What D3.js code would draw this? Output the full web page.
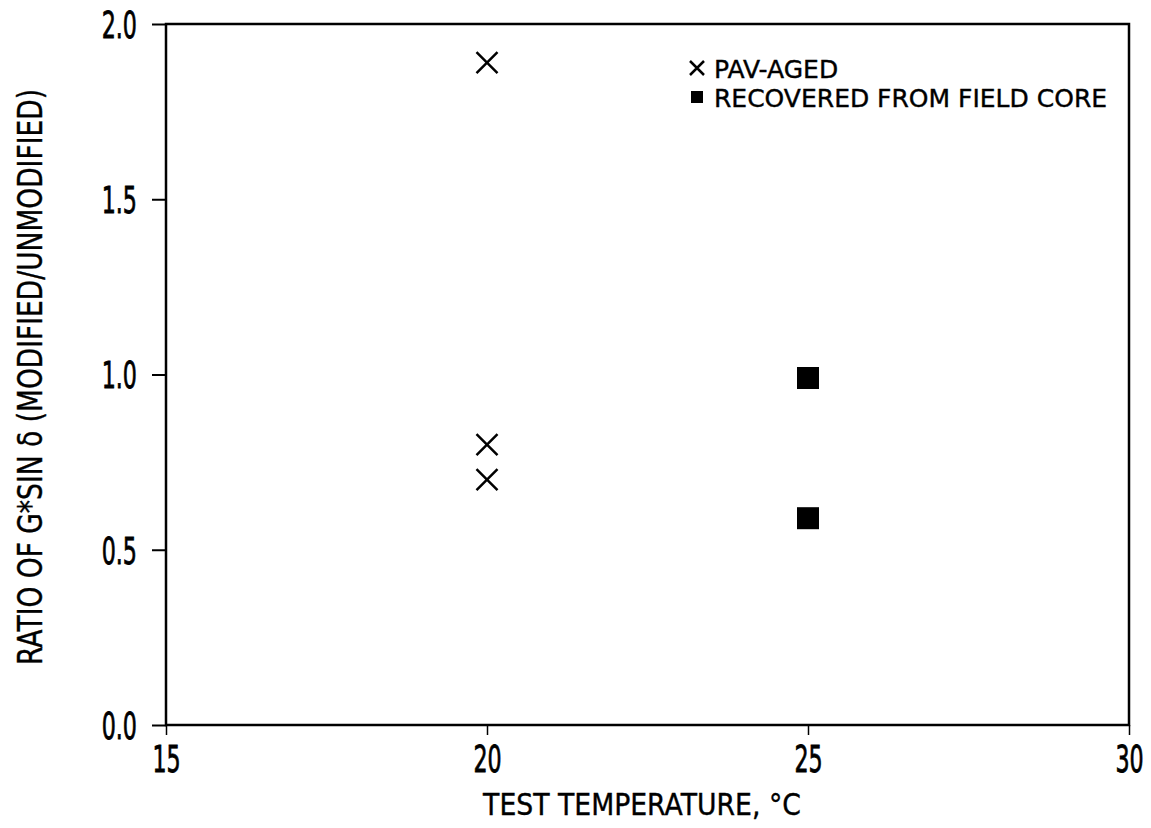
<!DOCTYPE html>
<html>
<head>
<meta charset="utf-8">
<script src="https://cdn.jsdelivr.net/npm/d3@7"></script>
<style>
  body { margin: 0; background: #fff; }
  text { font-family: "DejaVu Sans", sans-serif; fill: #000; }
</style>
</head>
<body>
<svg id="chart" width="1151" height="828"></svg>
<script>
// Ratio of G*sin(delta), modified / unmodified binder
const xTicks = [15, 20, 25, 30];
const yTicks = [0.0, 0.5, 1.0, 1.5, 2.0];
const pavTemps = [20, 20, 20];
const pavRatios = [1.89, 0.80, 0.70];
const fieldTemps = [25, 25];
const fieldRatios = [0.99, 0.59];
const legendLabels = ["PAV-AGED", "RECOVERED FROM FIELD CORE"];

const svg = d3.select("#chart");
const margin = { left: 166, right: 22, top: 24, bottom: 103 };
const W = 1151, H = 828;

const x = d3.scaleLinear().domain([15, 30]).range([margin.left, W - margin.right]);
const y = d3.scaleLinear().domain([0, 2]).range([H - margin.bottom, margin.top]);

// narrow lettering: text squeezed horizontally about its anchor
const narrow = (sel, tx, ty, sx, rot) =>
  sel.attr("x", 0).attr("y", 0)
     .attr("transform", `translate(${tx},${ty})${rot ? ` rotate(${rot})` : ""} scale(${sx},1)`);

// frame
svg.append("rect")
  .attr("x", x(15)).attr("y", y(2))
  .attr("width", x(30) - x(15)).attr("height", y(0) - y(2))
  .attr("fill", "none").attr("stroke", "#000").attr("stroke-width", 2.5);

// x axis
const xAxis = svg.append("g").attr("transform", `translate(0,${y(0)})`)
  .call(d3.axisBottom(x).tickValues(xTicks).tickFormat(d3.format("d")).tickSize(10));
xAxis.select(".domain").remove();
xAxis.selectAll("line").attr("stroke", "#000").attr("stroke-width", 1.5);
xAxis.selectAll("text").attr("font-size", 37).attr("dy", null)
  .attr("stroke", "#000").attr("stroke-width", 0.8)
  .each(function () { narrow(d3.select(this), 0, 47, 0.6); });

// y axis
const yAxis = svg.append("g").attr("transform", `translate(${x(15)},0)`)
  .call(d3.axisLeft(y).tickValues(yTicks).tickFormat(d3.format(".1f")).tickSize(14));
yAxis.select(".domain").remove();
yAxis.selectAll("line").attr("stroke", "#000").attr("stroke-width", 2);
yAxis.selectAll("text").attr("font-size", 37).attr("dy", "0.36em")
  .attr("stroke", "#000").attr("stroke-width", 0.8)
  .each(function () { narrow(d3.select(this), -29, 0, 0.6); });

// axis titles
narrow(svg.append("text").attr("text-anchor", "middle").attr("font-size", 30)
  .attr("stroke", "#000").attr("stroke-width", 0.4)
  .text("TEST TEMPERATURE, \u00B0C"), 642, 815, 0.89);

narrow(svg.append("text").attr("text-anchor", "middle").attr("font-size", 34)
  .attr("stroke", "#000").attr("stroke-width", 0.4)
  .text("RATIO OF G*SIN \u03B4 (MODIFIED/UNMODIFIED)"), 42, 377, 0.78, -90);

// markers
const cross = (g, cx, cy, r, w) => {
  g.append("path")
    .attr("d", `M${cx - r},${cy - r}L${cx + r},${cy + r}M${cx - r},${cy + r}L${cx + r},${cy - r}`)
    .attr("stroke", "#000").attr("stroke-width", w).attr("fill", "none");
};

const pts = svg.append("g");
pavTemps.forEach((t, i) => cross(pts, x(t), y(pavRatios[i]), 10.5, 2.5));
fieldTemps.forEach((t, i) => {
  pts.append("rect")
    .attr("x", x(t) - 11).attr("y", y(fieldRatios[i]) - 11)
    .attr("width", 22).attr("height", 22).attr("fill", "#000");
});

// legend
const lg = svg.append("g");
cross(lg, 697, 68, 7, 2.5);
lg.append("rect").attr("x", 691).attr("y", 91).attr("width", 12).attr("height", 12).attr("fill", "#000");
lg.selectAll("text.item").data(legendLabels).join("text")
  .attr("class", "item").attr("font-size", 25)
  .attr("stroke", "#000").attr("stroke-width", 0.4)
  .text(d => d)
  .each(function (d, i) { narrow(d3.select(this), 714, 78 + i * 29, 1.0); });
</script>
</body>
</html>
